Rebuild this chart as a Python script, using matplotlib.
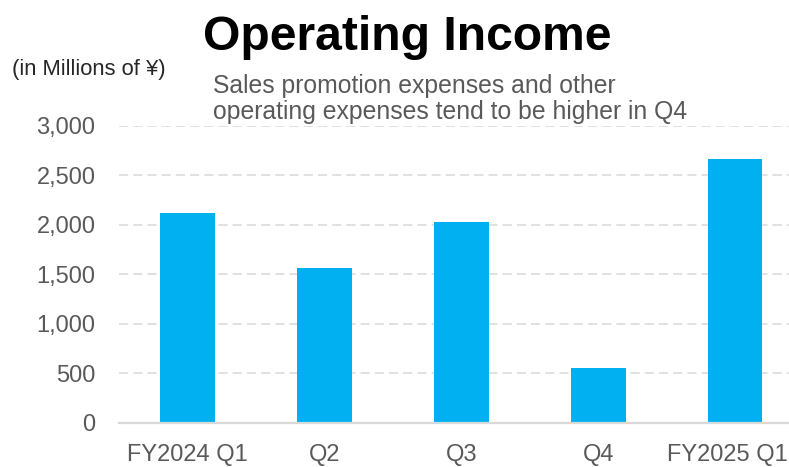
import matplotlib
matplotlib.use("Agg")
import matplotlib.pyplot as plt
from matplotlib.ticker import FuncFormatter
from matplotlib.transforms import ScaledTranslation

# Quarterly operating income, millions of yen
periods = ["FY2024 Q1", "Q2", "Q3", "Q4", "FY2025 Q1"]
operating_income = [2118, 1563, 2027, 549, 2667]
y_ticks = [0, 500, 1000, 1500, 2000, 2500, 3000]

title_text = "Operating Income"
unit_text = "(in Millions of ¥)"
note_lines = ["Sales promotion expenses and other",
              "operating expenses tend to be higher in Q4"]

FONT = ["Liberation Sans", "DejaVu Sans"]
plt.rcParams["font.family"] = FONT

BAR_COLOR = "#00B0F0"
TEXT_GRAY = "#595959"
GRID_GRAY = "#D9D9D9"

W, H = 789, 467
fig = plt.figure(figsize=(W / 100, H / 100), dpi=100)

left_px, right_px = 119, 803.5
bottom_px, top_px = 422.7, 125.7
ax = fig.add_axes([left_px / W, (H - bottom_px) / H,
                   (right_px - left_px) / W, (bottom_px - top_px) / H])

x = list(range(len(periods)))
ax.bar(x, operating_income, width=0.40, color=BAR_COLOR, zorder=3)

ax.set_xlim(-0.5, len(periods) - 0.5)
ax.set_ylim(0, 3000)
ax.set_yticks(y_ticks)
ax.yaxis.set_major_formatter(FuncFormatter(lambda v, _: f"{int(v):,}"))
ax.set_xticks(x)
ax.set_xticklabels(periods)

ax.grid(axis="y", color=GRID_GRAY, linewidth=1.1, linestyle=(0, (6, 3.3)), zorder=0)
ax.set_axisbelow(True)
for side in ["top", "right", "left"]:
    ax.spines[side].set_visible(False)
ax.spines["bottom"].set_color(GRID_GRAY)
ax.spines["bottom"].set_linewidth(1.6)
ax.spines["bottom"].set_zorder(4)

ax.tick_params(axis="both", length=0, labelsize=17, labelcolor=TEXT_GRAY)
ax.tick_params(axis="y", pad=17)
ax.tick_params(axis="x", pad=15)

# keep the last category label inside the canvas
last = ax.get_xticklabels()[-1]
last.set_transform(last.get_transform() + ScaledTranslation(-8 / 100, 0, fig.dpi_scale_trans))

fig.text(407 / W, 1 - 50 / H, title_text, ha="center", va="baseline",
         fontsize=34.6, fontweight="bold", color="black")
fig.text(12 / W, 1 - 75 / H, unit_text, ha="left", va="baseline",
         fontsize=15.8, color="#262626")
for line, base in zip(note_lines, [93, 119]):
    fig.text(213 / W, 1 - base / H, line, ha="left", va="baseline",
             fontsize=17.8, color=TEXT_GRAY)

fig.savefig("out.png", dpi=100)
